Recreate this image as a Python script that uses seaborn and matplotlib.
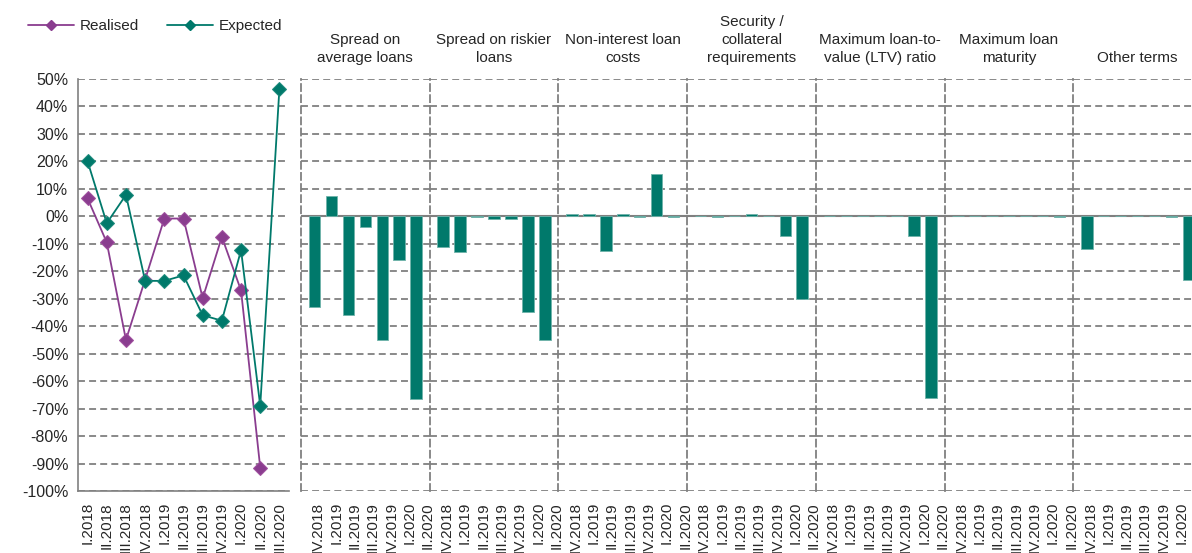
import matplotlib
matplotlib.use("Agg")
import matplotlib.pyplot as plt
from matplotlib.lines import Line2D
import seaborn as sns
import numpy as np

# Left panel: realised vs expected (net %)
quarters_line = ["I.2018", "II.2018", "III.2018", "IV.2018", "I.2019", "II.2019",
                 "III.2019", "IV.2019", "I.2020", "II.2020", "III.2020"]
realised = [6.5, -9.5, -45, -23, -0.8, -0.8, -29.8, -7.5, -27, -91.5]
expected = [20, -2.5, 7.8, -23.5, -23.5, -21.5, -36, -38, -12.3, -69, 46.5]

# Right panels: terms and conditions
quarters_bar = ["IV.2018", "I.2019", "II.2019", "III.2019", "IV.2019", "I.2020", "II.2020"]
panel_titles = ["Spread on\naverage loans", "Spread on riskier\nloans",
                "Non-interest loan\ncosts", "Security /\ncollateral\nrequirements",
                "Maximum loan-to-\nvalue (LTV) ratio", "Maximum loan\nmaturity",
                "Other terms"]
spread_avg = [-33, 7.5, -36, -4, -45, -16, -66.5]
spread_risky = [-11, -13, -0.3, -1, -1, -35, -45]
non_interest = [0.8, 0.8, -12.5, 0.8, -0.3, 15.5, -0.3]
collateral = [0, -0.3, 0, 0.8, 0, -7, -30]
max_ltv = [0, 0, 0, 0, 0, -7, -66]
max_maturity = [0, 0, 0, 0, 0, 0, -0.3]
other_terms = [-11.8, 0, 0, 0, 0, -0.3, -23]
panel_values = [spread_avg, spread_risky, non_interest, collateral,
                max_ltv, max_maturity, other_terms]

purple = "#8a3d8f"
teal = "#00796b"
grey = "#808080"

sns.set_style("white")
plt.rcParams["font.family"] = ["Liberation Sans", "DejaVu Sans"]
plt.rcParams["lines.scale_dashes"] = False
dash = (0, (5, 3))

W, H = 1192, 553
fig = plt.figure(figsize=(W / 100, H / 100), dpi=100)

y_top, y_bot = 79, 491
def px_axes(x0, x1):
    return [x0 / W, (H - y_bot) / H, (x1 - x0) / W, (y_bot - y_top) / H]

# -------------------- LEFT: LINE CHART --------------------
ax = fig.add_axes(px_axes(78, 289))
xs = np.arange(len(quarters_line))
ax.grid(axis="y", color=grey, linestyle=dash, linewidth=1.3)
sns.lineplot(x=xs[:len(realised)], y=realised, ax=ax, color=purple, marker="D",
             markersize=7, markeredgecolor="#a0509f", linewidth=1.3, label="Realised")
sns.lineplot(x=xs, y=expected, ax=ax, color=teal, marker="D",
             markersize=7, markeredgecolor="#1d8a7c", linewidth=1.3, label="Expected")
ax.get_legend().remove()
ax.set_xlim(-0.5, len(quarters_line) - 0.5)
ax.set_ylim(-100, 50)
ax.set_yticks(np.arange(-100, 51, 10))
ax.set_yticklabels([f"{v}%" for v in range(-100, 51, 10)], fontsize=11.5)
ax.set_xticks(xs)
ax.set_xticklabels(quarters_line, rotation=90, fontsize=11, va="top")
ax.set_xticks(np.arange(-0.5, len(quarters_line)), minor=True)
ax.tick_params(axis="x", which="major", length=0, pad=8)
ax.tick_params(axis="x", which="minor", length=4, width=1, color=grey, direction="out")
ax.tick_params(axis="y", length=4, width=1, color=grey, direction="out", pad=3)
for side in ["top", "right"]:
    ax.spines[side].set_visible(False)
for side in ["left", "bottom"]:
    ax.spines[side].set_color(grey)
    ax.spines[side].set_linewidth(1.2)

# -------------------- RIGHT: BAR PANELS --------------------
panel_w = 128.7
label_pos = 0.204 + np.arange(len(quarters_bar)) * 1.081
for k, (title, vals) in enumerate(zip(panel_titles, panel_values)):
    x0 = 301 + k * panel_w
    bx = fig.add_axes(px_axes(x0, x0 + panel_w))
    bx.grid(axis="y", color=grey, linestyle=dash, linewidth=1.3)
    bx.set_axisbelow(True)
    bx.axhline(0, color=grey, linewidth=1.5, zorder=1)
    sns.barplot(x=list(range(len(quarters_bar))), y=vals, ax=bx, color=teal,
                width=0.68, edgecolor="#6fb3aa", linewidth=0.6, saturation=1,
                zorder=2)
    bx.set_xlim(-0.8, 6.8)
    bx.set_ylim(-100, 50)
    bx.set_yticks(np.arange(-100, 51, 10))
    bx.set_yticklabels([])
    bx.tick_params(axis="y", length=0)
    bx.set_xticks(label_pos)
    bx.set_xticklabels(quarters_bar, rotation=90, fontsize=11, va="top")
    bx.tick_params(axis="x", length=0, pad=8)
    bx.set_xlabel("")
    for side in ["top", "right", "bottom"]:
        bx.spines[side].set_visible(False)
    bx.spines["left"].set_color(grey)
    bx.spines["left"].set_linestyle(dash)
    bx.spines["left"].set_linewidth(1.3)
    bx.set_title(title, fontsize=11, pad=12, linespacing=1.4)

# -------------------- LEGEND --------------------
handles = [
    Line2D([], [], color=purple, marker="D", markersize=5, linewidth=1.3),
    Line2D([], [], color=teal, marker="D", markersize=5, linewidth=1.3),
]
fig.legend(handles, ["Realised", "Expected"], loc="center left",
           bbox_to_anchor=(28 / W, 1 - 26 / H), ncol=2, frameon=False,
           fontsize=11, handlelength=3.0, handletextpad=0.4, columnspacing=1.8,
           borderaxespad=0, borderpad=0)

plt.savefig("out.png", dpi=100)
